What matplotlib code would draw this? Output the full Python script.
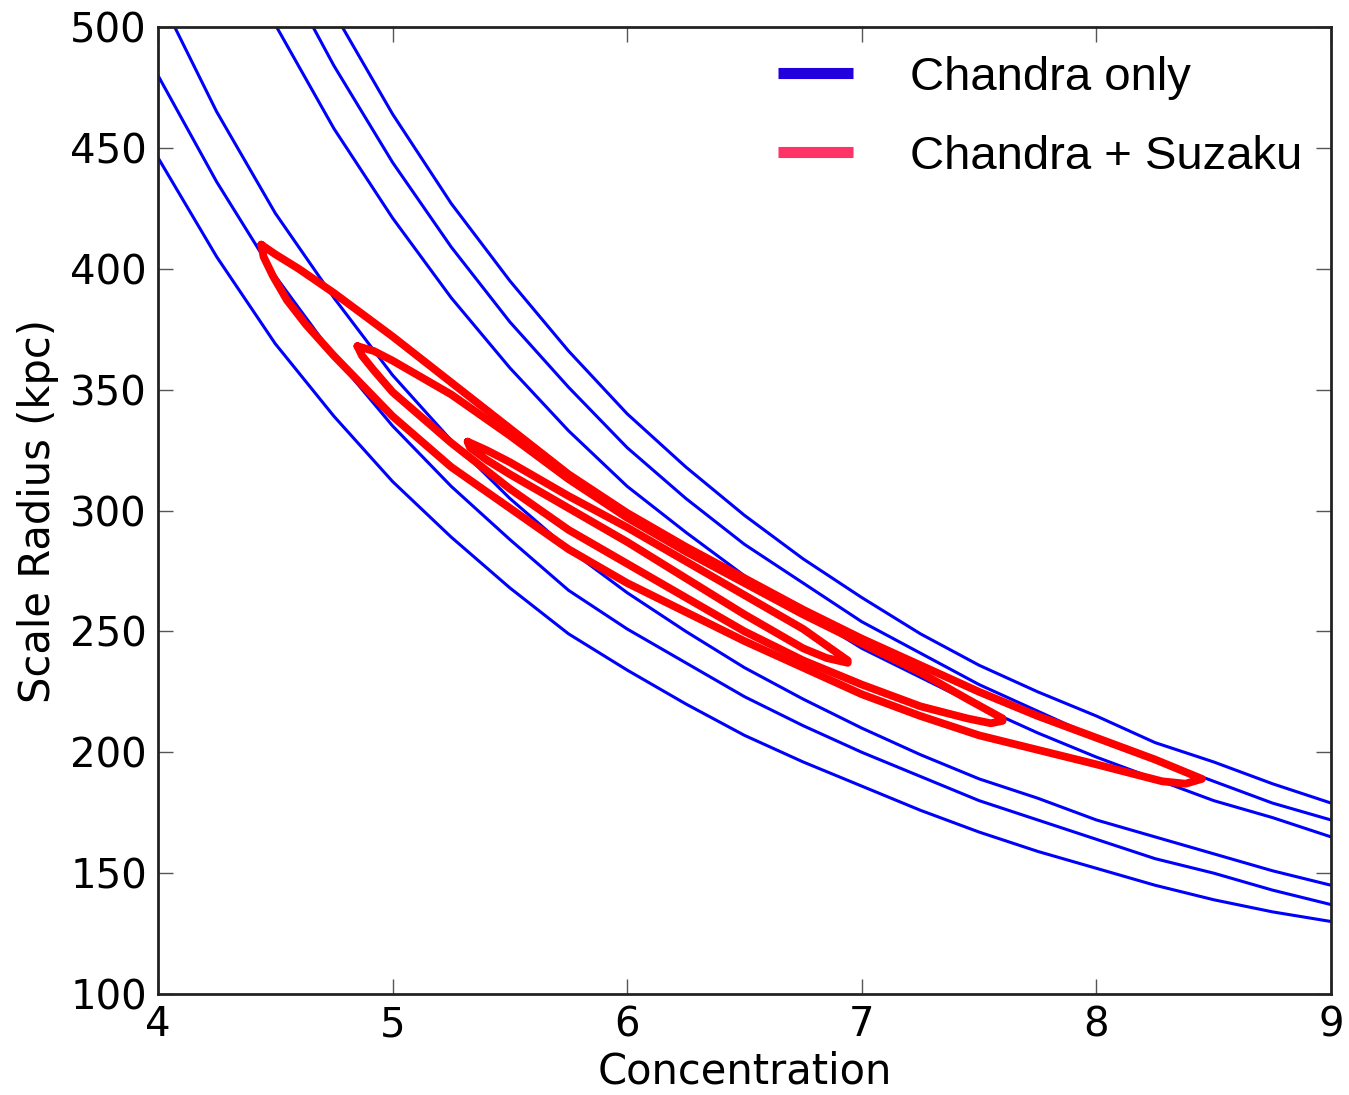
import numpy as np
import matplotlib
matplotlib.use("Agg")
import matplotlib.pyplot as plt
from matplotlib.lines import Line2D

# ---- data ----
conc = [4.0, 4.25, 4.5, 4.75, 5.0, 5.25, 5.5, 5.75, 6.0, 6.25, 6.5, 6.75,
        7.0, 7.25, 7.5, 7.75, 8.0, 8.25, 8.5, 8.75, 9.0]

# Chandra-only contour lines (upper group and lower group)
chandra_u1 = [684, 615, 555, 506, 464, 427, 395, 366, 340, 318, 298, 280,
              264, 249, 236, 225, 215, 204, 196, 187, 179]
chandra_u2 = [647, 584, 529, 484, 444, 409, 378, 351, 326, 305, 286, 270,
              254, 241, 228, 217, 206, 197, 188, 179, 172]
chandra_u3 = [612, 553, 501, 458, 421, 388, 359, 333, 310, 291, 273, 258,
              243, 231, 219, 208, 198, 189, 180, 173, 165]
chandra_l1 = [514, 465, 423, 388, 356, 329, 305, 284, 266, 250, 235, 222,
              210, 199, 189, 181, 172, 165, 158, 151, 145]
chandra_l2 = [480, 436, 397, 364, 335, 310, 288, 267, 251, 237, 223, 211,
              200, 190, 180, 172, 164, 156, 150, 143, 137]
chandra_l3 = [446, 405, 369, 339, 312, 289, 268, 249, 234, 220, 207, 196,
              186, 176, 167, 159, 152, 145, 139, 134, 130]

# Chandra + Suzaku contours (closed loops: upper edge, then lower edge back)
outer_up_x = [4.44, 4.50, 4.60, 4.75, 5.00, 5.25, 5.50, 5.75, 6.00, 6.25, 6.50,
              6.75, 7.00, 7.25, 7.50, 7.75, 8.00, 8.25, 8.45]
outer_up_y = [410, 406, 400, 390, 372, 353, 334, 315, 299, 285, 272,
              259, 247, 236, 225, 215, 206, 197, 189]
outer_lo_x = [8.45, 8.38, 8.28, 8.00, 7.75, 7.50, 7.25, 7.00, 6.75, 6.50, 6.25,
              6.00, 5.75, 5.50, 5.25, 5.00, 4.88, 4.75, 4.63, 4.55, 4.49, 4.45, 4.44]
outer_lo_y = [189, 187, 188, 195, 201, 207, 215, 224, 235, 246, 258,
              270, 284, 301, 318, 339, 351, 364, 377, 387, 397, 405, 410]

middle_up_x = [4.85, 4.92, 5.00, 5.25, 5.50, 5.75, 6.00, 6.25, 6.50, 6.75,
               7.00, 7.25, 7.45, 7.60]
middle_up_y = [368, 366, 362, 348, 331, 313, 297, 283, 270, 257,
               245, 233, 222, 214]
middle_lo_x = [7.60, 7.55, 7.45, 7.25, 7.00, 6.75, 6.50, 6.25, 6.00, 5.75,
               5.50, 5.25, 5.00, 4.92, 4.87, 4.85]
middle_lo_y = [213, 212, 214, 219, 228, 238, 250, 264, 278, 292,
               309, 328, 349, 358, 364, 368]

inner_up_x = [5.32, 5.40, 5.50, 5.75, 6.00, 6.25, 6.50, 6.75, 6.94]
inner_up_y = [328.5, 325, 320, 306, 293, 279, 265, 251, 238]
inner_lo_x = [6.94, 6.85, 6.75, 6.50, 6.25, 6.00, 5.75, 5.50, 5.40, 5.33, 5.32]
inner_lo_y = [237, 239, 243, 257, 272, 287, 301, 315, 321, 326, 328.5]

xticks = [4, 5, 6, 7, 8, 9]
yticks = [100, 150, 200, 250, 300, 350, 400, 450, 500]
legend_labels = ["Chandra only", "Chandra + Suzaku"]

# ---- figure ----
fig = plt.figure(figsize=(13.49, 10.95), dpi=100)
ax = fig.add_axes([0.1171, 0.0922, 0.8696, 0.8831])

for ys in [chandra_u1, chandra_u2, chandra_u3, chandra_l1, chandra_l2, chandra_l3]:
    ax.plot(conc, ys, color="#0000ff", lw=2.2, solid_joinstyle="round")

for ux, uy, lx, ly in [(outer_up_x, outer_up_y, outer_lo_x, outer_lo_y),
                       (middle_up_x, middle_up_y, middle_lo_x, middle_lo_y),
                       (inner_up_x, inner_up_y, inner_lo_x, inner_lo_y)]:
    ax.plot(list(ux) + list(lx), list(uy) + list(ly), color="#ff0000", lw=5.6,
            solid_joinstyle="round", solid_capstyle="round")

ax.set_xlim(4, 9)
ax.set_ylim(100, 500)
ax.set_xticks(xticks)
ax.set_yticks(yticks)
ax.tick_params(direction="in", length=11, width=1, color="#555555",
               top=True, right=True, labelsize=29, pad=8)
for sp in ax.spines.values():
    sp.set_linewidth(2)
    sp.set_color("#222222")

ax.set_xlabel("Concentration", fontsize=30, labelpad=4)
ax.set_ylabel("Scale Radius (kpc)", fontsize=30, labelpad=8)

handles = [Line2D([], [], color="#2200dd", lw=8, solid_capstyle="butt"),
           Line2D([], [], color="#ff3366", lw=8, solid_capstyle="butt")]
leg = fig.legend(handles, legend_labels, loc="upper left",
                 bbox_to_anchor=(0.559, 0.9704), frameon=False,
                 prop={"family": "Liberation Sans", "size": 34},
                 handlelength=1.6, handletextpad=1.2, labelspacing=0.74,
                 borderpad=0.0)

fig.savefig("out.png", dpi=100)
